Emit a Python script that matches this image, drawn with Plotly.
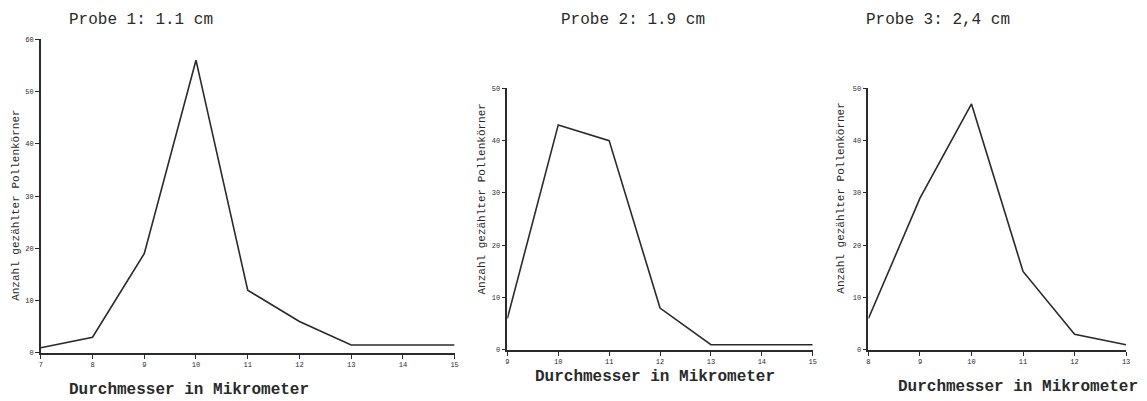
import plotly.graph_objects as go

# Pollenkorn-Durchmesser (Mikrometer) und gezählte Körner je Probe
d1 = [7, 8, 9, 10, 11, 12, 13, 14, 15]
n1 = [1, 3, 19, 56, 12, 6, 1.5, 1.5, 1.5]

d2 = [9, 10, 11, 12, 13, 14, 15]
n2 = [6, 43, 40, 8, 1, 1, 1]

d3 = [8, 9, 10, 11, 12, 13]
n3 = [6, 29, 47, 15, 3, 1]

titles = ["Probe 1: 1.1 cm", "Probe 2: 1.9 cm", "Probe 3: 2,4 cm"]
xtitle = "Durchmesser in Mikrometer"
ytitle = "Anzahl gezählter Pollenkörner"

W, H = 1147, 401
INK = "#2a2a2a"
MONO = "Liberation Mono, Courier New, monospace"

# plot boxes in pixels: (left, right, bottom, top)
boxes = [(39, 455, 356, 36), (508, 815, 353, 86), (871, 1130, 353, 86)]
xranges = [[7, 15], [9, 15], [8, 13]]
yranges = [[0, 60], [0, 50], [0, 50]]
series = [(d1, n1), (d2, n2), (d3, n3)]

fig = go.Figure()
for i, ((x, y), (l, r, b, t)) in enumerate(zip(series, boxes)):
    k = "" if i == 0 else str(i + 1)
    fig.add_trace(go.Scatter(x=x, y=y, mode="lines", xaxis="x" + k, yaxis="y" + k,
                             line=dict(color=INK, width=1.6), showlegend=False))
    axis_common = dict(showgrid=False, zeroline=False, showline=True, linecolor=INK,
                       linewidth=1.6, ticks="outside", tickcolor=INK, tickwidth=1.2,
                       ticklen=4, tickfont=dict(family=MONO, size=7, color=INK))
    fig.update_layout(**{
        "xaxis" + k: dict(domain=[l / W, r / W], range=xranges[i], dtick=1,
                          anchor="y" + k, **axis_common),
        "yaxis" + k: dict(domain=[1 - b / H, 1 - t / H], range=yranges[i], dtick=10,
                          anchor="x" + k, **axis_common),
    })

# titles, axis labels
ann = []
title_pos = [(65, 16), (560, 16), (867, 16)]
for (tx, ty), txt in zip(title_pos, titles):
    ann.append(dict(x=tx / W, y=1 - ty / H, xref="paper", yref="paper", text=txt,
                    showarrow=False, xanchor="left", yanchor="middle",
                    font=dict(family=MONO, size=16, color=INK)))
xt_pos = [(65, 394), (534, 381), (899, 391)]
for tx, ty in xt_pos:
    ann.append(dict(x=tx / W, y=1 - ty / H, xref="paper", yref="paper", text="<b>" + xtitle + "</b>",
                    showarrow=False, xanchor="left", yanchor="middle",
                    font=dict(family=MONO, size=16, color=INK)))
yt_pos = [(14, 205), (483, 199), (843, 198)]
for tx, ty in yt_pos:
    ann.append(dict(x=tx / W, y=1 - ty / H, xref="paper", yref="paper", text=ytitle,
                    showarrow=False, xanchor="center", yanchor="middle", textangle=-90,
                    font=dict(family=MONO, size=11, color=INK)))

fig.update_layout(width=W, height=H, margin=dict(l=0, r=0, t=0, b=0),
                  paper_bgcolor="white", plot_bgcolor="white", annotations=ann)

fig.write_html("out.html")
